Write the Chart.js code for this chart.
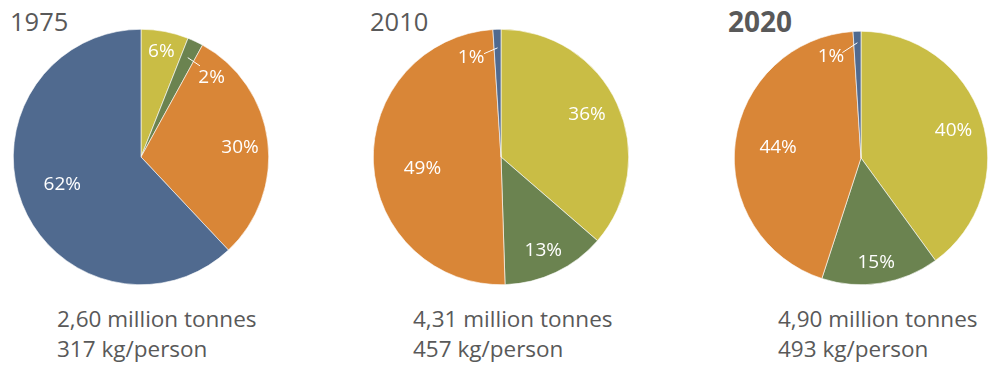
<!DOCTYPE html>
<html>
<head>
<meta charset="utf-8">
<script src="https://cdn.jsdelivr.net/npm/chart.js@4/dist/chart.umd.min.js"></script>
<style>
  body { margin: 0; background: #fff; width: 991px; height: 365px; overflow: hidden; position: relative; font-family: "Open Sans", sans-serif; color: #595959; }
  .year { position: absolute; font-size: 25.5px; line-height: 25.5px; }
  .year.bold { font-weight: bold; font-size: 28px; line-height: 28px; }
  .pie { position: absolute; width: 260px; height: 260px; }
  .totals { position: absolute; font-size: 22.5px; line-height: 29.5px; white-space: nowrap; }
</style>
</head>
<body>

<div class="year" style="left:10px; top:9px">1975</div>
<div class="year" style="left:370px; top:9px">2010</div>
<div class="year bold" style="left:728px; top:7px">2020</div>

<div class="pie" style="left:11px; top:27px"><canvas id="pie1975"></canvas></div>
<div class="pie" style="left:371px; top:27px"><canvas id="pie2010"></canvas></div>
<div class="pie" style="left:731px; top:28px"><canvas id="pie2020"></canvas></div>

<div class="totals" id="totals1975" style="left:57px; top:304px"></div>
<div class="totals" id="totals2010" style="left:413px; top:304px"></div>
<div class="totals" id="totals2020" style="left:778px; top:304px"></div>

<script>
// slice order: yellow, green, orange, blue (clockwise from 12 o'clock)
let categories = ['Yellow', 'Green', 'Orange', 'Blue'];
let colors = ['#C9BD45', '#6B8350', '#D98637', '#506A8F'];

let share1975 = [6, 2, 30, 62];
let share2010 = [36, 13, 49, 1];
let share2020 = [40, 15, 44, 1];

let tonnes = ['2,60', '4,31', '4,90'];
let perPerson = ['317', '457', '493'];

// label placement per slice: r = fraction of radius, da = degrees shifted from slice middle
// lead = [start offset from label angle (deg), start r, end r] for the small slices
let place1975 = [{ r: .85, da: 0 }, { r: .84, da: 16, lead: [-8.3, .85, .86] }, { r: .78, da: 1 }, { r: .65, da: 3 }];
let place2010 = [{ r: .756, da: -2.5 }, { r: .80, da: 1 }, { r: .62, da: -4.6 }, { r: .82, da: -14.8, lead: [7.3, .82, .855] }];
let place2020 = [{ r: .765, da: 0.8 }, { r: .83, da: 0.7 }, { r: .66, da: 0.3 }, { r: .84, da: -14.6, lead: [6.4, .845, .91] }];

const sliceLabels = {
    id: 'sliceLabels',
    afterDatasetsDraw(chart, args, opts) {
        const ctx = chart.ctx;
        const arcs = chart.getDatasetMeta(0).data;
        const values = chart.data.datasets[0].data;
        const rad = Math.PI / 180;
        ctx.save();
        ctx.fillStyle = '#fff';
        ctx.strokeStyle = '#fff';
        ctx.lineWidth = 1;
        ctx.font = '19px "Open Sans"';
        ctx.textAlign = 'center';
        ctx.textBaseline = 'middle';
        arcs.forEach((arc, i) => {
            const p = opts.place[i];
            const R = arc.outerRadius;
            const mid = (arc.startAngle + arc.endAngle) / 2;
            const a = mid + p.da * rad;
            ctx.fillText(values[i] + '%', arc.x + Math.cos(a) * R * p.r, arc.y + Math.sin(a) * R * p.r + 1);
            if (p.lead) {
                const s = a + p.lead[0] * rad;
                ctx.beginPath();
                ctx.moveTo(arc.x + Math.cos(s) * R * p.lead[1], arc.y + Math.sin(s) * R * p.lead[1]);
                ctx.lineTo(arc.x + Math.cos(mid) * R * p.lead[2], arc.y + Math.sin(mid) * R * p.lead[2]);
                ctx.stroke();
            }
        });
        ctx.restore();
    }
};

function makePie(id, values, place, pad) {
    new Chart(document.getElementById(id), {
        type: 'pie',
        data: {
            labels: categories,
            datasets: [{
                data: values,
                backgroundColor: colors,
                borderColor: '#fff',
                borderWidth: 0.6,
                hoverOffset: 0
            }]
        },
        options: {
            responsive: true,
            maintainAspectRatio: false,
            animation: false,
            layout: { padding: pad },
            plugins: {
                legend: { display: false },
                tooltip: { enabled: false },
                sliceLabels: { place: place }
            }
        },
        plugins: [sliceLabels]
    });
}

makePie('pie1975', share1975, place1975, 2);
makePie('pie2010', share2010, place2010, 2);
makePie('pie2020', share2020, place2020, 3);

['1975', '2010', '2020'].forEach((y, i) => {
    document.getElementById('totals' + y).innerHTML =
        tonnes[i] + ' million tonnes<br>' + perPerson[i] + ' kg/person';
});
</script>
</body>
</html>
